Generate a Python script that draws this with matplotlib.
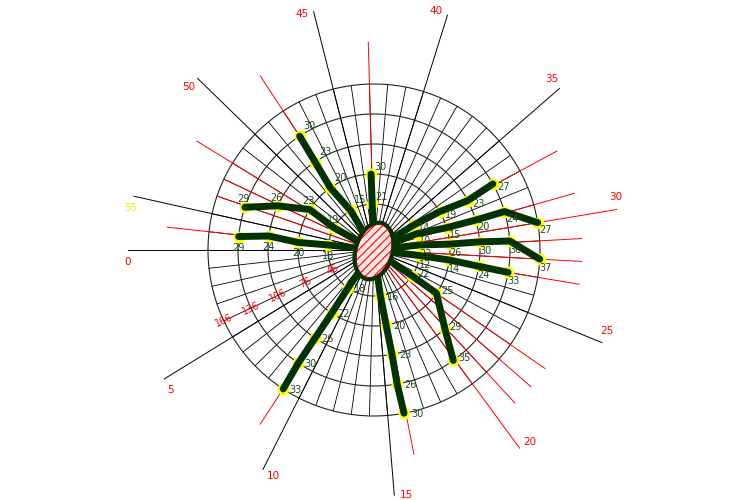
import numpy as np
import matplotlib
matplotlib.use("Agg")
import matplotlib.pyplot as plt
from matplotlib.patches import Ellipse

matplotlib.rcParams["font.family"] = ["DejaVu Sans"]
matplotlib.rcParams["hatch.linewidth"] = 0.8

# ── data ─────────────────────────────────────────────────────────────────────
UNITS = 57                      # divisions round the circle
rings = [46, 76, 106, 136, 166]
ring_labels = ["46", "76", "106", "136", "166"]
ring_label_dir = 4

major_dirs = [0, 5, 10, 15, 20, 25, 30, 35, 40, 45, 50, 55]
major_labels = [str(d) for d in major_dirs]

red_long = [9, 16, 20, 21, 22, 23, 27, 28, 29, 30, 31, 33, 43, 48, 52, 56]
red_short = [53, 54]

# one entry per spoke: direction at each ring and the value printed there
h_dirs = [8.8, 8.9, 8.9, 8.9, 9.0]
h_vals = [18, 22, 26, 30, 33]
g_dirs = [15.5, 15.7, 15.8, 15.8, 15.9]
g_vals = [16, 20, 23, 26, 30]
e_dirs = [23.1, 23.0, 20.9, 19.9]
e_vals = [22, 25, 29, 35]
k_dirs = [27.4, 27.3, 27.1, 27.0]
k_vals = [12, 14, 24, 33]
j_dirs = [29.5, 29.2, 29.2, 29.1, 28.0]
j_vals = [22, 26, 30, 36, 37]
f_dirs = [31.8, 31.2, 31.1, 31.1, 30.0]
f_vals = [10, 15, 20, 24, 27]
i_dirs = [33.6, 33.3, 32.9, 33.1]
i_vals = [14, 19, 23, 27]
b_dirs = [43.1, 43.1]
b_vals = [21, 30]
a_dirs = [47.6, 48.3, 48.1, 48.0]
a_vals = [15, 20, 23, 30]
c_dirs = [52.4, 51.9, 53.1, 54.1]
c_vals = [19, 23, 26, 29]
d_dirs = [56.0, 56.1, 55.8, 56.1]
d_vals = [18, 20, 24, 29]

# label offsets (pixels) per spoke
spokes = [
    (h_dirs, h_vals, (12, -1)),
    (g_dirs, g_vals, (13, -1)),
    (e_dirs, e_vals, (11, 2)),
    (k_dirs, k_vals, (5, -9)),
    (j_dirs, j_vals, (6, -9)),
    (f_dirs, f_vals, (8, -7)),
    (i_dirs, i_vals, (11, -3)),
    (b_dirs, b_vals, (9, 7)),
    (a_dirs, a_vals, (10, 10)),
    (c_dirs, c_vals, (-1, 8)),
    (d_dirs, d_vals, (0, -11)),
]

GREEN = "#003300"
LABEL_GREEN = "#1f4a1f"


def th(u):
    return np.asarray(u, dtype=float) * 2 * np.pi / UNITS


fig = plt.figure(figsize=(7.5, 5), dpi=100)
fig.patch.set_facecolor("white")
rect = [(374 - 250) / 750, 0, 500 / 750, 1]
ax = fig.add_axes(rect, projection="polar")
ax.set_theta_offset(np.pi)
ax.set_theta_direction(1)
ax.set_ylim(0, 250)
ax.axis("off")

# grid spokes and rings
for k in range(UNITS):
    ax.plot([th(k), th(k)], [0, rings[-1]], color="black", lw=0.6, zorder=1)
circ = np.linspace(0, 2 * np.pi, 500)
for r in rings:
    ax.plot(circ, np.full_like(circ, r), color="#222222", lw=0.8, zorder=1)

# long direction lines
for d, lab in zip(major_dirs, major_labels):
    col = "red" if d in red_long else "black"
    ax.plot([th(d), th(d)], [0, 246], color=col, lw=0.7, zorder=2)
    ax.text(th(d + 0.45), 247, lab, ha="center", va="center", fontsize=7.5,
            color="#f0f000" if d == 55 else "red")

# red direction lines
for d in red_long:
    if d not in major_dirs:
        ax.plot([th(d), th(d)], [0, 208], color="red", lw=0.7, zorder=3)
for d in red_short:
    ax.plot([th(d), th(d)], [0, rings[-1]], color="red", lw=0.7, zorder=3)

# ring labels
for r, lab in zip(rings, ring_labels):
    ax.text(th(ring_label_dir), r, lab, rotation=25, ha="center", va="center",
            fontsize=7, color="red", zorder=6)

# spokes
for dirs, vals, (ox, oy) in spokes:
    n = len(dirs)
    t = np.concatenate([[th(dirs[0])], th(dirs)])
    rr = [0] + rings[:n]
    ax.plot(th(dirs), rings[:n], "o", ms=7.5, color="#ffff00", zorder=4)
    ax.plot(t, rr, color=GREEN, lw=5, solid_capstyle="round", zorder=5)
    for d, r, v in zip(dirs, rings[:n], vals):
        ax.annotate(str(v), xy=(th(d), r), xytext=(ox, oy), textcoords="offset pixels",
                    ha="center", va="center", fontsize=7, color=LABEL_GREEN, zorder=6)

# centre ellipse
cax = fig.add_axes(rect)
cax.set_xlim(-250, 250)
cax.set_ylim(-250, 250)
cax.axis("off")
cax.patch.set_alpha(0)
cax.add_patch(Ellipse((0, -1), 34, 55, angle=-16, facecolor="#ffe4e4",
                      edgecolor="red", hatch="////", lw=0.8, zorder=1))
cax.add_patch(Ellipse((0, -1), 37, 58, angle=-16, fill=False,
                      edgecolor=GREEN, lw=3, zorder=2))
cax.add_patch(Ellipse((0, -1), 33, 54, angle=-16, fill=False,
                      edgecolor="red", lw=0.8, ls=":", zorder=3))

fig.savefig("out.png", dpi=100, facecolor="white")
